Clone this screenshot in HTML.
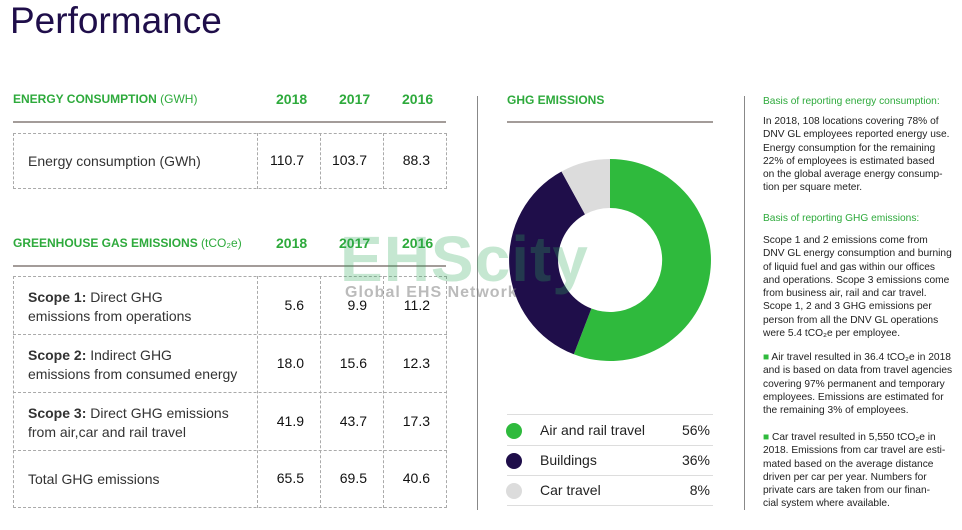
<!DOCTYPE html>
<html><head><meta charset="utf-8"><style>
*{margin:0;padding:0;box-sizing:border-box}
body{width:962px;height:530px;background:#fff;position:relative;overflow:hidden;font-family:"Liberation Sans",sans-serif;color:#222}
.a{position:absolute;white-space:nowrap}
.g{color:#2eaa3c;font-weight:bold}
.hl{position:absolute;height:2px;background:#a39c99}
.box{position:absolute;border:1px dashed #aaa}
.vl{position:absolute;border-left:1px dashed #aaa}
.hd{position:absolute;border-top:1px dashed #aaa}
.lab{position:absolute;left:28px;font-size:14px;line-height:19px;color:#333}
.num{position:absolute;font-size:14px;text-align:right;width:60px;color:#111}
.rt{position:absolute;left:763px;font-size:10.2px;line-height:13.3px;color:#222;white-space:nowrap}
.lg{position:absolute;height:1px;background:#ddd;left:507px;width:206px}
</style></head><body>
<div class="a" style="left:10px;top:0px;font-size:37px;color:#1f0e4a">Performance</div>

<div class="a g" style="left:13px;top:92px;font-size:12px">ENERGY CONSUMPTION <span style="font-weight:normal">(GWH)</span></div>
<div class="a g" style="left:276px;top:91px;font-size:14px">2018</div>
<div class="a g" style="left:339px;top:91px;font-size:14px">2017</div>
<div class="a g" style="left:402px;top:91px;font-size:14px">2016</div>
<div class="hl" style="left:13px;top:121px;width:433px"></div>
<div class="box" style="left:13px;top:133px;width:434px;height:56px"></div>
<div class="vl" style="left:257px;top:133px;height:56px"></div>
<div class="vl" style="left:320px;top:133px;height:56px"></div>
<div class="vl" style="left:383px;top:133px;height:56px"></div>
<div class="lab" style="top:152px">Energy consumption (GWh)</div>
<div class="num" style="left:244px;top:152px">110.7</div>
<div class="num" style="left:307px;top:152px">103.7</div>
<div class="num" style="left:370px;top:152px">88.3</div>

<div class="a g" style="left:13px;top:236px;font-size:12px">GREENHOUSE GAS EMISSIONS <span style="font-weight:normal">(tCO₂e)</span></div>
<div class="a g" style="left:276px;top:235px;font-size:14px">2018</div>
<div class="a g" style="left:339px;top:235px;font-size:14px">2017</div>
<div class="a g" style="left:402px;top:235px;font-size:14px">2016</div>
<div class="hl" style="left:13px;top:265px;width:433px"></div>
<div class="box" style="left:13px;top:276px;width:434px;height:232px"></div>
<div class="vl" style="left:257px;top:276px;height:232px"></div>
<div class="vl" style="left:320px;top:276px;height:232px"></div>
<div class="vl" style="left:383px;top:276px;height:232px"></div>
<div class="hd" style="left:13px;top:334px;width:434px"></div>
<div class="hd" style="left:13px;top:392px;width:434px"></div>
<div class="hd" style="left:13px;top:450px;width:434px"></div>
<div class="lab" style="top:288px"><b>Scope 1:</b> Direct GHG<br>emissions from operations</div>
<div class="lab" style="top:346px"><b>Scope 2:</b> Indirect GHG<br>emissions from consumed energy</div>
<div class="lab" style="top:404px"><b>Scope 3:</b> Direct GHG emissions<br>from air,car and rail travel</div>
<div class="lab" style="top:470px">Total GHG emissions</div>
<div class="num" style="left:244px;top:297px">5.6</div><div class="num" style="left:307px;top:297px">9.9</div><div class="num" style="left:370px;top:297px">11.2</div>
<div class="num" style="left:244px;top:355px">18.0</div><div class="num" style="left:307px;top:355px">15.6</div><div class="num" style="left:370px;top:355px">12.3</div>
<div class="num" style="left:244px;top:413px">41.9</div><div class="num" style="left:307px;top:413px">43.7</div><div class="num" style="left:370px;top:413px">17.3</div>
<div class="num" style="left:244px;top:470px">65.5</div><div class="num" style="left:307px;top:470px">69.5</div><div class="num" style="left:370px;top:470px">40.6</div>

<div style="position:absolute;left:477px;top:96px;width:1px;height:414px;background:#888"></div>
<div style="position:absolute;left:744px;top:96px;width:1px;height:414px;background:#888"></div>

<div class="a g" style="left:507px;top:93px;font-size:12px">GHG EMISSIONS</div>
<div class="hl" style="left:507px;top:121px;width:206px"></div>
<svg style="position:absolute;left:0;top:0" width="962" height="530">
<path d="M610,159 A101,101 0 1 1 573.8,354.3 L591.4,308.5 A52,52 0 1 0 610,208 Z" fill="#2fba3d"/>
<path d="M573.8,354.3 A101,101 0 0 1 561.5,171.5 L585,214.4 A52,52 0 0 0 591.4,308.5 Z" fill="#1f0e4a"/>
<path d="M561.5,171.5 A101,101 0 0 1 610,159 L610,208 A52,52 0 0 0 585,214.4 Z" fill="#dcdcdc"/>
<circle cx="514" cy="431" r="8" fill="#2fba3d"/>
<circle cx="514" cy="461" r="8" fill="#1f0e4a"/>
<circle cx="514" cy="491" r="8" fill="#dcdcdc"/>
</svg>
<div class="lg" style="top:414px"></div><div class="lg" style="top:445px"></div><div class="lg" style="top:475px"></div><div class="lg" style="top:505px"></div>
<div class="a" style="left:540px;top:422px;font-size:14px">Air and rail travel</div>
<div class="a" style="left:540px;top:452px;font-size:14px">Buildings</div>
<div class="a" style="left:540px;top:482px;font-size:14px">Car travel</div>
<div class="a" style="left:650px;width:60px;text-align:right;top:422px;font-size:14px">56%</div>
<div class="a" style="left:650px;width:60px;text-align:right;top:452px;font-size:14px">36%</div>
<div class="a" style="left:650px;width:60px;text-align:right;top:482px;font-size:14px">8%</div>

<div class="a" style="left:340px;top:222px;font-size:64px;font-weight:bold;color:rgba(46,170,90,0.28);letter-spacing:1px">EHScity</div>
<div class="a" style="left:345px;top:284px;font-size:16px;font-weight:bold;color:rgba(120,120,120,0.5);letter-spacing:1px">Global EHS Network</div>

<div class="rt" style="top:95px;color:#2eaa3c">Basis of reporting energy consumption:</div>
<div class="rt" style="top:115px">In 2018, 108 locations covering 78% of<br>DNV GL employees reported energy use.<br>Energy consumption for the remaining<br>22% of employees is estimated based<br>on the global average energy consump-<br>tion per square meter.</div>
<div class="rt" style="top:212px;color:#2eaa3c">Basis of reporting GHG emissions:</div>
<div class="rt" style="top:234px">Scope 1 and 2 emissions come from<br>DNV GL energy consumption and burning<br>of liquid fuel and gas within our offices<br>and operations. Scope 3 emissions come<br>from business air, rail and car travel.<br>Scope 1, 2 and 3 GHG emissions per<br>person from all the DNV GL operations<br>were 5.4 tCO₂e per employee.</div>
<div class="rt" style="top:351px"><span style="color:#2fba3d">■</span> Air travel resulted in 36.4 tCO₂e in 2018<br>and is based on data from travel agencies<br>covering 97% permanent and temporary<br>employees. Emissions are estimated for<br>the remaining 3% of employees.</div>
<div class="rt" style="top:431px"><span style="color:#2fba3d">■</span> Car travel resulted in 5,550 tCO₂e in<br>2018. Emissions from car travel are esti-<br>mated based on the average distance<br>driven per car per year. Numbers for<br>private cars are taken from our finan-<br>cial system where available.</div>
</body></html>
